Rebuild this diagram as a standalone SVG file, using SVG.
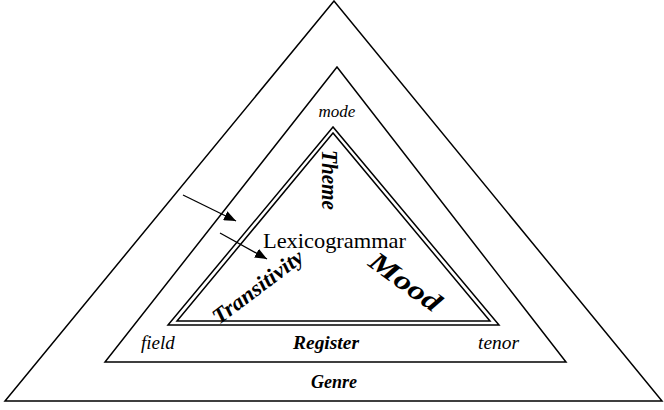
<svg xmlns="http://www.w3.org/2000/svg" width="664" height="410" viewBox="0 0 664 410">
<defs>
<marker id="ah" viewBox="0 0 12 10" refX="12" refY="5" markerWidth="12" markerHeight="10" markerUnits="userSpaceOnUse" orient="auto">
<path d="M0,0 L12,5 L0,10 Z" fill="#000"/>
</marker>
<style>
.tri{fill:none;stroke:#000;stroke-width:1.5;stroke-linejoin:miter}
.t{font-family:"Liberation Serif","Times New Roman",serif;fill:#000}
.i{font-style:italic}
.bi{font-style:italic;font-weight:bold}
.arr{stroke:#000;stroke-width:1.3;fill:none;marker-end:url(#ah)}
</style>
</defs>
<rect width="664" height="410" fill="#fff"/>
<g id="genre">
<polygon class="tri" points="334,1 5,401 662,401"/>
<text class="t bi" x="334" y="388" font-size="18" text-anchor="middle">Genre</text>
</g>
<g id="register">
<polygon class="tri" points="337,67 105,362 566,362"/>
<text class="t i" x="337" y="117" font-size="17" text-anchor="middle">mode</text>
<text class="t i" x="141" y="349" font-size="19">field</text>
<text class="t bi" x="293" y="349" font-size="19" textLength="66" lengthAdjust="spacingAndGlyphs">Register</text>
<text class="t i" x="478" y="349" font-size="19" textLength="41" lengthAdjust="spacingAndGlyphs">tenor</text>
</g>
<g id="lexicogrammar">
<polygon class="tri" points="333,127 168,325 499,325"/>
<polygon class="tri" points="333,133 177,321 490,321"/>
<text class="t" x="263" y="248" font-size="21" textLength="143" lengthAdjust="spacingAndGlyphs">Lexicogrammar</text>
<text class="t bi" font-size="24" textLength="60" lengthAdjust="spacingAndGlyphs" transform="translate(322,150) rotate(90)">Theme</text>
<text class="t bi" font-size="22" textLength="108" lengthAdjust="spacingAndGlyphs" transform="translate(219,325) rotate(-37)">Transitivity</text>
<text class="t bi" font-size="27" textLength="82" lengthAdjust="spacingAndGlyphs" transform="translate(367,265) rotate(36)">Mood</text>
</g>
<g id="connectors">
<line class="arr" x1="183" y1="195" x2="236" y2="221"/>
<line class="arr" x1="220" y1="233" x2="267" y2="259"/>
</g>
</svg>
